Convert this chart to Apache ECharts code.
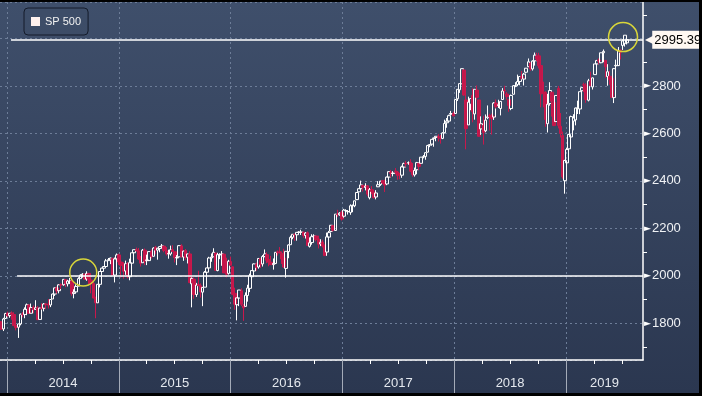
<!DOCTYPE html>
<html>
<head>
<meta charset="utf-8">
<script src="https://cdn.jsdelivr.net/npm/echarts@6/dist/echarts.min.js"></script>
<style>
html,body{margin:0;padding:0;background:#000;width:702px;height:396px;overflow:hidden;}
#c{position:absolute;left:0;top:2px;width:699px;height:391px;background:linear-gradient(to bottom,#3f4f6b 0%,#2b3750 100%);}
</style>
</head>
<body>
<div id="c"></div>
<script>
// Weekly candles [open, close, low, high]; each year's array starts at the listed Friday.
const firstFriday = {2013:'2013-12-06',2014:'2014-01-03',2015:'2015-01-02',2016:'2016-01-01',2017:'2017-01-06',2018:'2018-01-05',2019:'2019-01-04'};
const weeks2013 = [[1806,1805,1779,1813],[1806,1775,1772,1808],[1776,1818,1767,1823],[1820,1841,1819,1844]];
const weeks2014 = [[1842,1831,1827,1849],[1832,1842,1823,1843],[1843,1838,1815,1850],[1837,1790,1790,1846],[1791,1782,1770,1795],[1783,1797,1738,1798],[1797,1838,1791,1841],[1838,1836,1825,1847],[1837,1859,1821,1867],[1858,1878,1834,1883],[1877,1841,1839,1879],[1842,1866,1842,1883],[1867,1857,1842,1875],[1858,1865,1858,1897],[1865,1815,1814,1873],[1816,1864,1815,1865],[1865,1863,1858,1884],[1863,1881,1850,1885],[1881,1878,1859,1885],[1878,1877,1862,1902],[1877,1900,1868,1901],[1902,1923,1902,1925],[1923,1949,1915,1950],[1949,1936,1925,1955],[1937,1962,1926,1964],[1962,1961,1944,1968],[1962,1985,1958,1985],[1984,1967,1952,1986],[1966,1978,1955,1983],[1976,1978,1965,1991],[1978,1925,1916,1984],[1925,1931,1905,1943],[1932,1955,1928,1964],[1956,1988,1956,1994],[1988,2003,1988,2006],[2004,2007,1992,2011],[2007,1985,1985,2008],[1986,2010,1979,2019],[2010,1982,1965,2010],[1982,1967,1926,1986],[1967,1906,1905,1977],[1906,1886,1821,1912],[1886,1964,1886,1965],[1964,2018,1951,2018],[2018,2032,2002,2034],[2032,2039,2030,2041],[2039,2063,2034,2071],[2064,2068,2064,2075],[2066,2075,2049,2076],[2074,2002,2002,2075],[2003,2071,1972,2077],[2071,2088,2064,2094]];
const weeks2015 = [[2088,2058,2046,2093],[2058,2044,1992,2064],[2046,2019,1988,2057],[2020,2051,2004,2064],[2050,1995,1989,2057],[1996,2055,1981,2072],[2053,2097,2041,2097],[2097,2110,2085,2110],[2110,2105,2103,2119],[2105,2071,2067,2117],[2072,2053,2039,2083],[2055,2108,2055,2113],[2108,2061,2045,2115],[2064,2067,2045,2089],[2064,2102,2064,2103],[2102,2081,2073,2111],[2082,2117,2082,2120],[2120,2108,2090,2126],[2108,2116,2068,2118],[2115,2123,2099,2124],[2122,2126,2121,2134],[2125,2107,2099,2126],[2105,2092,2085,2121],[2092,2094,2072,2110],[2092,2110,2085,2127],[2110,2102,2101,2129],[2101,2077,2056,2102],[2075,2077,2045,2087],[2080,2127,2080,2129],[2126,2080,2077,2133],[2079,2104,2063,2106],[2106,2078,2067,2113],[2078,2092,2052,2093],[2092,1971,1971,2103],[1966,1989,1867,1993],[1986,1921,1903,1993],[1921,1961,1911,1970],[1963,1958,1957,2021],[1958,1932,1908,1968],[1931,1951,1872,1953],[1952,2015,1952,2020],[2015,2033,1993,2034],[2033,2075,2021,2080],[2075,2079,2059,2094],[2080,2099,2080,2116],[2096,2023,2022,2094],[2022,2089,2019,2097],[2088,2090,2070,2095],[2090,2092,2042,2104],[2091,2012,2012,2094],[2013,2006,1993,2076],[2010,2061,2005,2067]];
const weeks2016 = [[2060,2044,2043,2081],[2038,1922,1918,2038],[1926,1880,1857,1950],[1878,1907,1812,1908],[1906,1940,1872,1940],[1937,1880,1872,1947],[1873,1865,1810,1881],[1871,1918,1871,1930],[1917,1948,1891,1962],[1947,2000,1931,2009],[1996,2022,1970,2022],[2020,2050,2012,2052],[2049,2035,2022,2056],[2037,2073,2030,2075],[2073,2048,2033,2074],[2050,2081,2039,2087],[2081,2092,2078,2111],[2089,2065,2053,2099],[2068,2057,2040,2084],[2057,2047,2045,2084],[2047,2052,2026,2073],[2052,2099,2049,2100],[2100,2099,2085,2107],[2101,2096,2095,2121],[2093,2071,2050,2096],[2075,2037,2033,2114],[2031,2103,1992,2103],[2102,2130,2074,2132],[2131,2162,2131,2169],[2162,2175,2154,2175],[2174,2174,2147,2178],[2173,2183,2148,2183],[2183,2184,2175,2188],[2184,2184,2172,2194],[2183,2169,2160,2187],[2170,2180,2157,2184],[2181,2128,2127,2187],[2124,2139,2119,2162],[2140,2165,2131,2175],[2164,2168,2145,2175],[2168,2153,2145,2169],[2155,2133,2115,2169],[2134,2141,2125,2154],[2142,2126,2119,2152],[2129,2085,2084,2131],[2100,2164,2084,2182],[2163,2182,2156,2189],[2187,2213,2187,2214],[2211,2192,2187,2214],[2191,2260,2191,2260],[2259,2258,2248,2278],[2257,2264,2253,2268],[2267,2239,2233,2274]];
const weeks2017 = [[2251,2277,2245,2282],[2274,2275,2264,2280],[2270,2271,2258,2277],[2267,2295,2257,2301],[2295,2297,2268,2300],[2295,2316,2289,2317],[2321,2351,2319,2352],[2354,2367,2353,2368],[2367,2383,2355,2401],[2381,2373,2355,2382],[2372,2378,2360,2390],[2379,2344,2335,2382],[2329,2363,2322,2370],[2363,2355,2344,2378],[2353,2329,2326,2356],[2332,2349,2322,2361],[2375,2384,2374,2399],[2385,2399,2379,2400],[2401,2391,2387,2404],[2393,2382,2353,2405],[2387,2416,2382,2418],[2416,2439,2403,2440],[2437,2432,2415,2446],[2431,2433,2419,2441],[2442,2438,2428,2454],[2437,2423,2405,2442],[2431,2425,2407,2434],[2424,2459,2413,2464],[2458,2473,2456,2477],[2473,2472,2459,2484],[2475,2477,2468,2482],[2478,2441,2437,2491],[2444,2426,2417,2475],[2425,2444,2418,2456],[2447,2477,2428,2480],[2474,2461,2446,2475],[2474,2500,2474,2500],[2501,2502,2495,2509],[2503,2519,2489,2520],[2521,2549,2520,2552],[2550,2553,2542,2555],[2555,2575,2548,2575],[2578,2581,2544,2582],[2583,2588,2567,2588],[2587,2582,2566,2597],[2580,2579,2557,2594],[2579,2602,2576,2605],[2603,2642,2600,2658],[2645,2652,2624,2665],[2652,2675,2652,2679],[2681,2684,2676,2695],[2684,2674,2673,2692]];
const weeks2018 = [[2684,2743,2682,2744],[2746,2786,2737,2787],[2784,2810,2771,2810],[2809,2873,2809,2873],[2867,2762,2759,2870],[2741,2620,2533,2763],[2636,2732,2636,2755],[2723,2747,2698,2747],[2760,2691,2647,2790],[2682,2786,2658,2786],[2783,2752,2742,2802],[2741,2588,2586,2742],[2619,2641,2594,2672],[2634,2604,2553,2674],[2611,2656,2605,2680],[2666,2670,2660,2718],[2675,2670,2612,2683],[2675,2663,2595,2683],[2669,2728,2657,2732],[2728,2713,2705,2743],[2718,2721,2707,2742],[2705,2735,2676,2737],[2743,2779,2743,2791],[2782,2780,2765,2801],[2766,2755,2742,2775],[2742,2718,2691,2743],[2705,2760,2698,2764],[2765,2801,2764,2804],[2798,2802,2795,2816],[2806,2819,2799,2848],[2819,2840,2803,2841],[2840,2833,2828,2863],[2829,2850,2802,2855],[2858,2875,2853,2876],[2881,2902,2880,2916],[2897,2872,2864,2900],[2872,2905,2865,2908],[2906,2930,2886,2941],[2926,2914,2905,2940],[2927,2885,2874,2940],[2886,2767,2710,2890],[2775,2768,2710,2818],[2773,2659,2628,2778],[2641,2723,2604,2767],[2726,2781,2717,2816],[2774,2736,2671,2775],[2730,2633,2631,2747],[2650,2760,2650,2762],[2790,2633,2621,2800],[2630,2600,2583,2686],[2591,2417,2409,2608],[2401,2486,2346,2489]];
const weeks2019 = [[2476,2532,2444,2539],[2535,2596,2524,2598],[2585,2671,2570,2675],[2652,2665,2613,2681],[2657,2707,2634,2709],[2706,2708,2682,2738],[2703,2776,2681,2776],[2780,2793,2764,2794],[2805,2804,2775,2814],[2803,2743,2729,2812],[2740,2822,2735,2830],[2822,2801,2800,2860],[2796,2834,2785,2836],[2848,2893,2848,2893],[2893,2907,2867,2910],[2909,2905,2891,2916],[2898,2940,2896,2940],[2940,2946,2900,2954],[2908,2881,2835,2908],[2840,2860,2801,2892],[2841,2826,2805,2864],[2832,2752,2750,2841],[2751,2873,2728,2876],[2885,2887,2868,2911],[2886,2950,2884,2964],[2950,2942,2912,2956],[2971,2990,2952,2996],[2980,3014,2966,3014],[2982,2995.39,2975,3004]];

const yearTicks = [2014, 2015, 2016, 2017, 2018, 2019];
const quarterTicks = [2014.25,2014.5,2014.75,2015.25,2015.5,2015.75,2016.25,2016.5,2016.75,2017.25,2017.5,2017.75,2018.25,2018.5,2018.75,2019.25,2019.5];
const yearLabelPos = [2014.5, 2015.5, 2016.5, 2017.5, 2018.5, 2019.344];
const yLabels = [1800, 2000, 2200, 2400, 2600, 2800];
const lastPrice = 2995.39;
const supportLevel = 2000;
const circles = [[2014.682, 2014], [2019.51, 3006]];

const XMIN = 2013.9374, XMAX = 2019.6887, YMIN = 1645, YMAX = 3154;

function decYear(dateStr, addDays) {
  const d = new Date(dateStr + 'T00:00:00Z');
  d.setUTCDate(d.getUTCDate() + addDays);
  const y = d.getUTCFullYear();
  const a = Date.UTC(y, 0, 1), b = Date.UTC(y + 1, 0, 1);
  return y + (d.getTime() - a) / (b - a);
}
const allYears = {2013: weeks2013, 2014: weeks2014, 2015: weeks2015, 2016: weeks2016, 2017: weeks2017, 2018: weeks2018, 2019: weeks2019};
const candles = [];
Object.keys(allYears).forEach(function (yr) {
  allYears[yr].forEach(function (w, i) {
    candles.push([decYear(firstFriday[yr], i * 7)].concat(w));
  });
});

const FONT = 'Liberation Sans';
const chart = echarts.init(document.getElementById('c'), null, {renderer: 'canvas'});
chart.setOption({
  animation: false,
  backgroundColor: 'transparent',
  textStyle: {fontFamily: FONT},
  legend: {
    show: true, left: 24, top: 6, padding: [8, 7], itemWidth: 9, itemHeight: 9,
    borderColor: '#141b2a', borderWidth: 1, borderRadius: 4, backgroundColor: 'rgba(60,76,102,0.5)',
    textStyle: {color: '#f2f2f2', fontSize: 11, fontFamily: FONT},
    data: [{name: 'SP 500', icon: 'rect', itemStyle: {color: '#fff2ef', borderWidth: 0}}]
  },
  grid: {left: 0, right: 56, top: 0, bottom: 33, containLabel: false},
  xAxis: [{
    type: 'value', min: XMIN, max: XMAX, minInterval: 1, maxInterval: 1,
    axisLine: {show: true, onZero: false, lineStyle: {color: '#ffffff', width: 1.5}},
    axisTick: {show: true, customValues: yearTicks, length: 33, lineStyle: {color: '#a4abb8', width: 1}},
    axisLabel: {show: true, customValues: yearLabelPos, margin: 17, color: '#e4e8ee', fontSize: 13, fontFamily: FONT,
      formatter: function (v) { return String(Math.floor(v)); }},
    splitLine: {show: true, lineStyle: {color: '#6d7d98', type: [2, 3], width: 1}}
  }, {
    type: 'value', min: XMIN, max: XMAX, position: 'bottom',
    axisLine: {show: false},
    axisTick: {show: true, customValues: quarterTicks, length: 4, lineStyle: {color: '#ffffff', width: 1}},
    axisLabel: {show: false},
    splitLine: {show: false}
  }],
  yAxis: {
    type: 'value', position: 'right', min: YMIN, max: YMAX, minInterval: 200, maxInterval: 200,
    axisLine: {show: true, lineStyle: {color: '#ffffff', width: 1.5}},
    axisTick: {show: false},
    minorTick: {show: true, splitNumber: 2, length: 4, lineStyle: {color: '#ffffff', width: 1}},
    axisLabel: {
      show: true, margin: 1, color: '#f0f2f5', fontSize: 13, fontFamily: FONT,
      showMinLabel: false, showMaxLabel: false,
      formatter: function (v) { return yLabels.indexOf(v) >= 0 ? '{t|\u25BA}' + v : ''; },
      rich: {t: {fontFamily: 'DejaVu Sans', fontSize: 9, color: '#ffffff', padding: [0, 1, 0, 0]}}
    },
    splitLine: {show: true, lineStyle: {color: '#6d7d98', type: [2, 3], width: 1}}
  },
  series: [{
    name: 'SP 500', type: 'candlestick', xAxisIndex: 0, yAxisIndex: 0,
    encode: {x: 0, y: [1, 2, 3, 4]},
    barWidth: 3,
    itemStyle: {color: 'rgba(0,0,0,0)', color0: '#c3174a', borderColor: '#ffffff', borderColor0: '#c8184c', borderWidth: 1},
    data: candles,
    markLine: {
      silent: true, symbol: ['none', 'none'], animation: false,
      lineStyle: {color: '#ffffff', width: 1.5, type: 'solid'},
      label: {show: false},
      data: [
        [{coord: [2014.09, supportLevel]}, {coord: [XMAX, supportLevel]}],
        [{coord: [2014.036, lastPrice]}, {coord: [XMAX, lastPrice],
          label: {show: true, position: 'end', distance: 2,
            formatter: '{a|\u25C0}{b|' + lastPrice.toFixed(2) + '}',
            rich: {
              a: {fontFamily: 'DejaVu Sans', fontSize: 12, color: '#fff8f2', padding: [0, -2, 0, 0]},
              b: {backgroundColor: '#fff8f2', color: '#000000', fontSize: 13, fontFamily: FONT, padding: [3, 4, 2, 2]}
            }}}]
      ]
    },
    markPoint: {
      silent: true, symbol: 'circle', animation: false,
      itemStyle: {color: 'rgba(0,0,0,0)', borderColor: '#d9d63a', borderWidth: 1.5},
      label: {show: false},
      data: [
        {coord: circles[0], symbolSize: 27},
        {coord: circles[1], symbolSize: 29}
      ]
    }
  }]
});
</script>
</body>
</html>
